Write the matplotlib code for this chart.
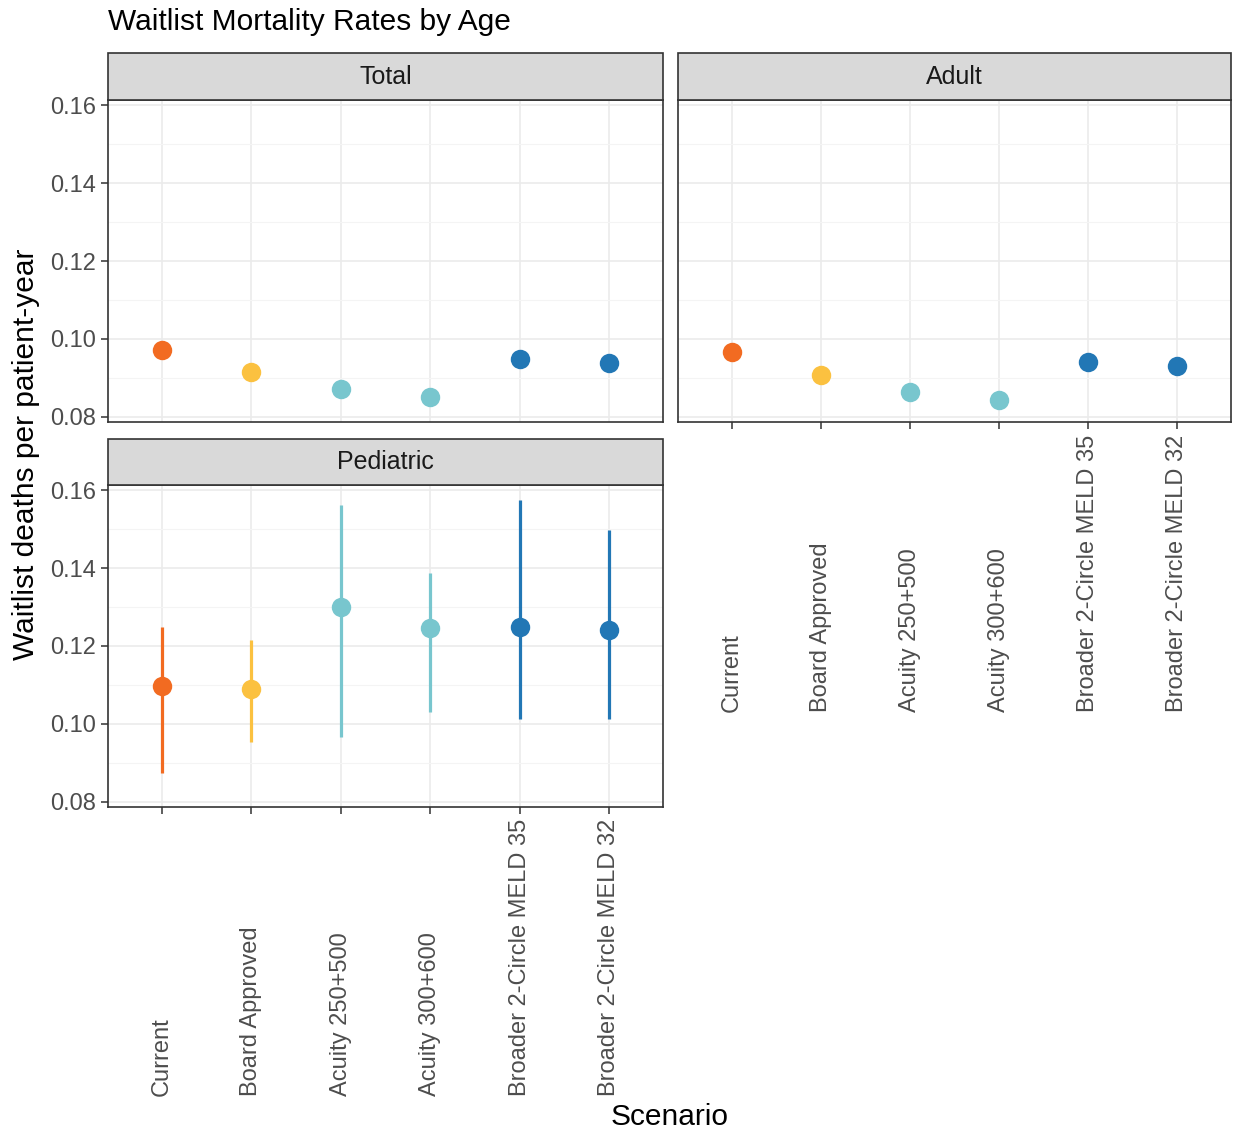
import numpy as np
import matplotlib
matplotlib.use("Agg")
import matplotlib.pyplot as plt
from matplotlib.transforms import blended_transform_factory
from matplotlib.patches import Rectangle

plt.rcParams['font.family'] = ['Liberation Sans', 'DejaVu Sans']

# Data
scenarios = ["Current", "Board Approved", "Acuity 250+500", "Acuity 300+600",
             "Broader 2-Circle MELD 35", "Broader 2-Circle MELD 32"]
colors = ["#F26B21", "#FBC140", "#78C6CE", "#78C6CE", "#2277B5", "#2277B5"]

total_rate = [0.0972, 0.0915, 0.0872, 0.0851, 0.0949, 0.0938]
total_low = [0.0962, 0.0906, 0.0864, 0.0843, 0.0940, 0.0929]
total_high = [0.0982, 0.0924, 0.0880, 0.0859, 0.0958, 0.0947]

adult_rate = [0.0967, 0.0908, 0.0864, 0.0844, 0.0941, 0.0931]
adult_low = [0.0957, 0.0899, 0.0856, 0.0836, 0.0932, 0.0922]
adult_high = [0.0977, 0.0917, 0.0872, 0.0852, 0.0950, 0.0940]

ped_rate = [0.1097, 0.1090, 0.1300, 0.1246, 0.1249, 0.1241]
ped_low = [0.0874, 0.0954, 0.0967, 0.1031, 0.1013, 0.1013]
ped_high = [0.1249, 0.1215, 0.1562, 0.1387, 0.1574, 0.1497]

W, H = 1236, 1136
fig = plt.figure(figsize=(W / 100, H / 100), dpi=100)


def px_axes(x0, y0, x1, y1):
    return fig.add_axes([x0 / W, 1 - y1 / H, (x1 - x0) / W, (y1 - y0) / H])


tick_col = "#4D4D4D"
tick_size = 17


def panel(ax, title, rate, low, high, strip_top, show_y, show_x, label_bottom):
    x = np.arange(len(scenarios))
    ax.set_xlim(-0.6, len(scenarios) - 0.4)
    ax.set_ylim(0.0787, 0.1613)
    ax.set_yticks(np.arange(0.08, 0.161, 0.02))
    ax.set_yticks(np.arange(0.09, 0.16, 0.02), minor=True)
    ax.set_xticks(x)
    ax.grid(True, which="major", color="#EBEBEB", lw=1.2)
    ax.grid(True, which="minor", axis="y", color="#F4F4F4", lw=0.8)
    ax.set_axisbelow(True)
    for s in ax.spines.values():
        s.set_color("#333333")
        s.set_linewidth(1.2)
    for i in range(len(scenarios)):
        ax.plot([x[i], x[i]], [low[i], high[i]], color=colors[i], lw=2.3,
                solid_capstyle="butt", zorder=3)
        ax.plot(x[i], rate[i], "o", color=colors[i], ms=14, mec="none", zorder=4)
    ax.tick_params(axis="both", which="major", length=5, width=1.1,
                   color="#333333", labelcolor=tick_col, labelsize=tick_size)
    ax.tick_params(axis="y", which="minor", length=0)
    if show_y:
        ax.set_yticklabels(["%.2f" % v for v in np.arange(0.08, 0.161, 0.02)])
    else:
        ax.tick_params(axis="y", which="major", length=0, labelleft=False)
    ax.set_xticklabels([])
    if not show_x:
        ax.tick_params(axis="x", length=0)
    else:
        tr = blended_transform_factory(ax.transData, fig.transFigure)
        for i, lab in enumerate(scenarios):
            ax.text(x[i], 1 - label_bottom / H, lab, transform=tr, rotation=90,
                    ha="center", va="bottom", fontsize=tick_size, color=tick_col)
    # strip on top
    bb = ax.get_position()
    sh = (1 - strip_top / H) - bb.y1
    rect = Rectangle((bb.x0, bb.y1), bb.width, sh, transform=fig.transFigure,
                     facecolor="#D9D9D9", edgecolor="#333333", lw=1.2, zorder=0)
    fig.patches.append(rect)
    fig.text(bb.x0 + bb.width / 2, bb.y1 + sh / 2, title, ha="center",
             va="center", fontsize=18, color="#1A1A1A")


ax_t = px_axes(108, 100, 663, 422)
ax_a = px_axes(678, 100, 1231, 422)
ax_p = px_axes(108, 485, 663, 807)

panel(ax_t, "Total", total_rate, total_low, total_high, 53, True, False, None)
panel(ax_a, "Adult", adult_rate, adult_low, adult_high, 53, False, True, 712)
panel(ax_p, "Pediatric", ped_rate, ped_low, ped_high, 439, True, True, 1096)

fig.text(108 / W, 1 - 22 / H, "Waitlist Mortality Rates by Age", ha="left",
         va="center", fontsize=21.5, color="black")
fig.text(670 / W, 1 - 1117 / H, "Scenario", ha="center", va="center",
         fontsize=21.5, color="black")
fig.text(26 / W, 1 - 454 / H, "Waitlist deaths per patient-year", ha="center",
         va="center", rotation=90, fontsize=21.5, color="black")

fig.savefig("out.png", dpi=100)
